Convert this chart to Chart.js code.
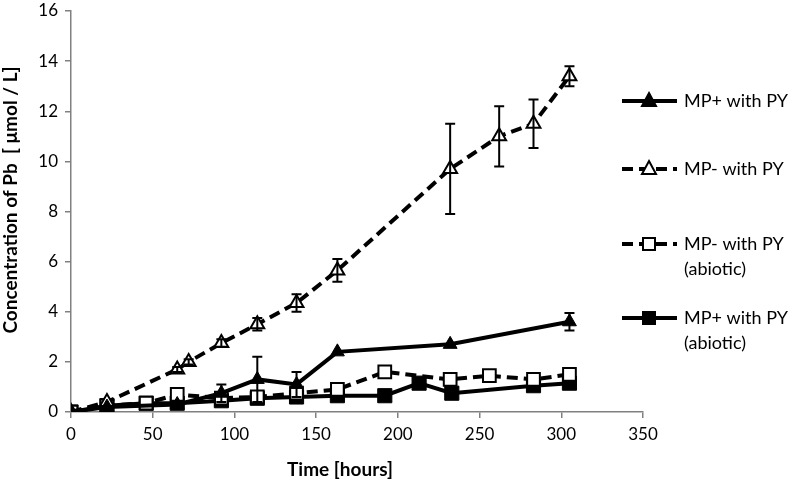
<!DOCTYPE html>
<html>
<head>
<meta charset="utf-8">
<script src="https://cdn.jsdelivr.net/npm/chart.js@4.4.1/dist/chart.umd.min.js"></script>
<style>
  html, body { margin: 0; padding: 0; background: #fff; }
  #wrap { width: 790px; height: 483px; }
</style>
</head>
<body>
<div id="wrap"><canvas id="chart1" width="790" height="483"></canvas></div>
<script>
// MP+ with PY
const timeA = [0, 22, 65, 92, 114, 138, 163, 232, 305];
const concA = [0, 0.2, 0.3, 0.75, 1.3, 1.1, 2.4, 2.7, 3.6];
const errA  = [0, 0, 0, 0.35, 0.9, 0.5, 0, 0, 0.35];

// MP- with PY
const timeB = [0, 22, 65, 72, 92, 114, 138, 163, 232, 262, 283, 305];
const concB = [0, 0.4, 1.7, 2.0, 2.75, 3.5, 4.35, 5.65, 9.7, 11.0, 11.5, 13.4];
const errB  = [0, 0, 0.1, 0.1, 0.15, 0.25, 0.35, 0.45, 1.8, 1.2, 0.97, 0.4];

// MP- with PY (abiotic)
const timeC = [0, 22, 46, 65, 92, 114, 138, 163, 192, 232, 256, 283, 305];
const concC = [0, 0.25, 0.35, 0.7, 0.55, 0.6, 0.75, 0.9, 1.6, 1.3, 1.45, 1.3, 1.5];

// MP+ with PY (abiotic)
const timeD = [0, 22, 46, 65, 92, 114, 138, 163, 192, 213, 233, 283, 305];
const concD = [0, 0.25, 0.35, 0.35, 0.45, 0.55, 0.6, 0.65, 0.65, 1.15, 0.75, 1.05, 1.15];

const xTicks = [0, 50, 100, 150, 200, 250, 300, 350];
const yTicks = [0, 2, 4, 6, 8, 10, 12, 14, 16];
const xTitle = 'Time [hours]';
const yTitle = 'Concentration of Pb  [ \u03bcmol / L]';

function pts(t, v) {
  return t.map((x, i) => ({ x: x, y: v[i] }));
}

const FONT = "Lato, 'Open Sans', sans-serif";

// error bars drawn on top of the lines
const errorBars = {
  id: 'errorBars',
  afterDatasetsDraw(chart) {
    const ctx = chart.ctx;
    const xs = chart.scales.x, ys = chart.scales.y;
    ctx.save();
    ctx.strokeStyle = '#000';
    ctx.lineWidth = 2;
    chart.data.datasets.forEach(ds => {
      if (!ds.err) return;
      ds.data.forEach((p, i) => {
        const e = ds.err[i];
        if (!e) return;
        const px = xs.getPixelForValue(p.x);
        const top = ys.getPixelForValue(p.y + e);
        const bot = ys.getPixelForValue(p.y - e);
        ctx.beginPath();
        ctx.moveTo(px, top); ctx.lineTo(px, bot);
        ctx.moveTo(px - 5, top); ctx.lineTo(px + 5, top);
        ctx.moveTo(px - 5, bot); ctx.lineTo(px + 5, bot);
        ctx.stroke();
      });
    });
    ctx.restore();
  }
};

function marker(ctx, style, fill, x, y) {
  ctx.fillStyle = fill;
  ctx.strokeStyle = '#000';
  ctx.lineWidth = 2;
  ctx.setLineDash([]);
  ctx.beginPath();
  if (style === 'triangle') {
    ctx.moveTo(x, y - 8); ctx.lineTo(x + 7, y + 5); ctx.lineTo(x - 7, y + 5); ctx.closePath();
  } else {
    ctx.rect(x - 6, y - 6, 12, 12);
  }
  ctx.fill(); ctx.stroke();
}

// legend on the right (two-line labels) and the axis titles
const sideLegend = {
  id: 'sideLegend',
  afterDraw(chart) {
    const ctx = chart.ctx;
    const rows = [
      { ds: 0, y: 101, lines: ['MP+ with PY'] },
      { ds: 1, y: 169, lines: ['MP- with PY'] },
      { ds: 2, y: 244, lines: ['MP- with PY', '(abiotic)'] },
      { ds: 3, y: 318, lines: ['MP+ with PY', '(abiotic)'] }
    ];
    ctx.save();
    rows.forEach(r => {
      const ds = chart.data.datasets[r.ds];
      ctx.strokeStyle = '#000';
      ctx.lineWidth = 4;
      ctx.setLineDash(ds.borderDash || []);
      ctx.beginPath();
      ctx.moveTo(622, r.y); ctx.lineTo(677, r.y);
      ctx.stroke();
      marker(ctx, ds.pointStyle, ds.pointBackgroundColor, 649, r.y);
      ctx.fillStyle = '#000';
      ctx.font = '18px ' + FONT;
      ctx.textBaseline = 'middle';
      ctx.textAlign = 'left';
      r.lines.forEach((t, k) => ctx.fillText(t, 684, r.y + k * 25));
    });

    ctx.font = 'bold 19px ' + FONT;
    ctx.textAlign = 'center';
    ctx.textBaseline = 'middle';
    ctx.fillText(xTitle, 340, 470);
    ctx.translate(11, 200);
    ctx.rotate(-Math.PI / 2);
    ctx.fillText(yTitle, 0, 0);
    ctx.restore();
  }
};

new Chart(document.getElementById('chart1'), {
  type: 'scatter',
  data: {
    datasets: [
      {
        label: 'MP+ with PY',
        data: pts(timeA, concA),
        err: errA,
        showLine: true,
        borderColor: '#000',
        borderWidth: 4,
        pointStyle: 'triangle',
        pointRadius: 8,
        pointBackgroundColor: '#000',
        pointBorderColor: '#000',
        pointBorderWidth: 1
      },
      {
        label: 'MP- with PY',
        data: pts(timeB, concB),
        err: errB,
        showLine: true,
        borderColor: '#000',
        borderWidth: 4,
        borderDash: [11, 6],
        pointStyle: 'triangle',
        pointRadius: 8,
        pointBackgroundColor: '#fff',
        pointBorderColor: '#000',
        pointBorderWidth: 2
      },
      {
        label: 'MP- with PY (abiotic)',
        data: pts(timeC, concC),
        showLine: true,
        borderColor: '#000',
        borderWidth: 4,
        borderDash: [11, 6],
        pointStyle: 'rect',
        pointRadius: 9,
        pointBackgroundColor: '#fff',
        pointBorderColor: '#000',
        pointBorderWidth: 2
      },
      {
        label: 'MP+ with PY (abiotic)',
        data: pts(timeD, concD),
        showLine: true,
        borderColor: '#000',
        borderWidth: 4,
        pointStyle: 'rect',
        pointRadius: 10,
        pointBackgroundColor: '#000',
        pointBorderColor: '#000',
        pointBorderWidth: 1
      }
    ]
  },
  options: {
    responsive: false,
    animation: false,
    layout: { padding: { left: 4, right: 147, top: 8, bottom: 4 } },
    plugins: {
      legend: { display: false },
      tooltip: { enabled: false }
    },
    scales: {
      x: {
        type: 'linear',
        min: 0,
        max: 350,
        afterBuildTicks: s => { s.ticks = xTicks.map(v => ({ value: v })); },
        ticks: { color: '#000', font: { family: FONT, size: 17 }, padding: 6 },
        grid: { drawOnChartArea: false, drawTicks: true, tickLength: 6, color: '#808080', lineWidth: 1.5 },
        border: { color: '#808080', width: 1.5 },
        afterFit: s => { s.height = 67; }
      },
      y: {
        type: 'linear',
        min: 0,
        max: 16,
        afterBuildTicks: s => { s.ticks = yTicks.map(v => ({ value: v })); },
        ticks: { color: '#000', font: { family: FONT, size: 17 }, padding: 7 },
        grid: { drawOnChartArea: false, drawTicks: true, tickLength: 6, color: '#808080', lineWidth: 1.5 },
        border: { color: '#808080', width: 1.5 },
        afterFit: s => { s.width = 67; s.paddingTop = 0; s.paddingBottom = 0; }
      }
    }
  },
  plugins: [errorBars, sideLegend]
});
</script>
</body>
</html>
